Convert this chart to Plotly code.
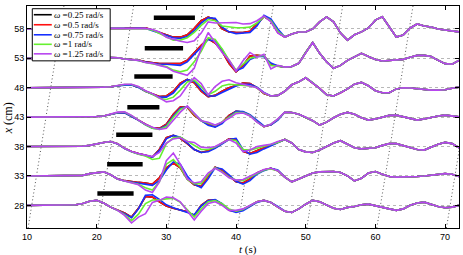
import plotly.graph_objects as go

# time grid (s)
t = list(range(10, 73))

# row positions (cm) – y tick labels
rows = [58, 53, 48, 43, 38, 33, 28]

# ---- displacement data (cm) ----
# lead: t=10..22 (shared), head: t=23..46 (per series), tail: t=47..72 (shared)
lead_58 = [0, 0, 0, 0, 0, 0, 0, 0, 0, 0, 0, 0, 0]
red_58 = [0.03, 0.1, 0.15, 0.2, 0.2, -0.2, -0.6, -1.0, -1.4, -1.4, -1.0, 0.1, 1.4, 2.0, 1.6, 0, -0.5, -0.6, -0.6, -0.4, 0.9, 2.1, 1.4, -0.6]
blue_58 = [0.03, 0.08, 0.12, 0.15, 0.1, -0.3, -0.7, -1.1, -1.5, -1.6, -1.3, -0.3, 1.0, 1.9, 1.8, 0.3, -0.5, -0.8, -0.7, -0.6, 0.5, 2.3, 1.7, 0]
green_58 = [0.03, 0.08, 0.1, 0.1, 0.05, -0.2, -0.8, -1.4, -1.9, -1.9, -1.5, -0.6, 0.6, 1.6, 1.4, 0.5, 0.3, 0.2, 0.2, 0.3, 1.0, 2.1, 1.4, -0.4]
purple_58 = [0.03, 0.09, 0.12, 0.12, 0.09, -0.09, -0.5, -1.4, -1.8, -2.1, -2.3, -2.0, -0.7, 1.2, 1.0, 1.0, 1.0, 1.1, 0.85, 0.9, 1.4, 2.2, 1.2, -0.7]
tail_58 = [-1.37, -0.85, -0.51, -0.51, 0, 1.19, 2.05, 1.2, -0.7, -1.9, -1.0, -0.5, 0.17, 1.5, 2.05, 0.34, -1.37, -1.02, 0.17, 0.85, 0.51, 0.34, 0, -0.17, -0.34, -0.51]

lead_53 = [0, 0, 0, 0, 0, 0, 0, 0, 0, 0, 0.1, 0.17, 0.17]
red_53 = [0.1, -0.1, -0.2, -0.3, -0.6, -0.8, -0.9, -0.9, -0.9, -0.9, -0.34, 1.0, 2.2, 3.3, 2.6, 1.2, -0.9, -2.3, -1.2, 0.4, 0.5, 0.4, -1.0, -1.3]
blue_53 = [0.1, -0.1, -0.25, -0.35, -0.65, -0.85, -1.0, -1.0, -1.1, -1.2, -0.6, 0.6, 1.9, 3.2, 2.9, 1.5, -0.5, -2.1, -1.6, -0.2, 0.3, 0.3, -0.8, -1.3]
green_53 = [0.1, -0.1, -0.25, -0.35, -0.7, -0.9, -1.2, -1.4, -2.0, -2.3, -2.0, -0.6, 1.2, 3.5, 3.2, 1.6, -0.3, -2.0, -1.0, 0, 0.3, 0.5, -1.2, -1.3]
purple_53 = [0.1, -0.1, -0.2, -0.34, -0.7, -0.85, -1.2, -1.5, -2.2, -2.6, -2.9, -1.7, 1.7, 4.4, 2.8, 1.0, -0.3, -2.2, -0.4, 1.0, 0.2, 0.7, -1.8, -1.2]
tail_53 = [-1.5, -1.4, -0.85, 1.0, 2.7, 0.85, -0.6, -1.7, -1.2, -0.34, 0.3, 0.85, 0.3, -0.2, -0.45, -0.34, -0.34, -0.17, 0.17, 0.5, 0.5, 0.3, -0.34, -0.9, -1.0, -0.34]

lead_48 = [0, 0, 0, 0, 0, 0, 0, 0, 0, 0, 0, 0.1, 0.17]
red_48 = [0.35, 0.5, 0.5, 0.1, -0.6, -1.0, -1.5, -1.4, -0.6, 0.8, 1.4, 0.85, -0.6, -1.5, -1.3, -0.6, 0, 0.4, 0.8, 0.7, 0, -1.0, -1.4, -1.3]
blue_48 = [0.3, 0.45, 0.45, 0.05, -0.6, -1.1, -1.6, -1.6, -0.9, 0.5, 1.4, 1.1, -0.3, -1.4, -1.4, -0.8, -0.2, 0.3, 0.6, 0.6, 0.1, -0.8, -1.4, -1.3]
green_48 = [0.35, 0.55, 0.55, 0.15, -0.6, -1.1, -1.8, -2.0, -1.6, -0.4, 1.0, 1.3, 0.2, -1.2, -0.6, 0.3, 0.6, 0.5, 0.5, 0.3, 0, -0.9, -1.4, -1.3]
purple_48 = [0.4, 0.6, 0.6, 0.2, -0.5, -1.0, -1.7, -2.4, -2.2, -1.4, 0.3, 1.7, 0.7, -1.2, 0.2, 1.1, 1.35, 0.85, 0.6, 0.3, 0, -0.85, -1.4, -1.3]
tail_48 = [-0.6, 0.5, 1.0, 1.7, 0.85, -0.1, -1.2, -1.4, -0.85, -0.2, 0.6, 0.9, 0.34, -0.5, -0.85, -0.85, -0.2, 0, -0.05, -0.2, -0.34, -0.4, -0.4, -0.34, -0.1, 0.1]

lead_43 = [0, 0, 0, 0, 0, 0, 0, 0, 0, 0, 0.1, 0.2, 0.5]
red_43 = [0.75, 0.8, 0.2, -0.5, -1.2, -1.8, -1.9, -1.2, 0.5, 1.7, 1.7, 0.3, -0.6, -1.2, -1.6, -0.9, 0.3, 1.0, 0.85, 0.3, -0.7, -1.6, -1.3, -0.4]
blue_43 = [0.7, 0.75, 0.15, -0.55, -1.3, -1.9, -2.0, -1.4, 0.2, 1.5, 1.8, 0.6, -0.6, -1.4, -1.7, -1.1, 0.1, 1.0, 0.95, 0.4, -0.6, -1.5, -1.35, -0.5]
green_43 = [0.8, 0.85, 0.25, -0.5, -1.3, -1.9, -2.1, -1.6, 0, 1.3, 1.8, 0.5, -0.6, -1.0, -1.4, -0.8, 0, 0.8, 0.8, 0.3, -0.8, -1.6, -1.2, -0.35]
purple_43 = [0.85, 0.9, 0.3, -0.5, -1.2, -1.7, -2.1, -1.9, -0.5, 0.85, 1.9, 0.7, -0.6, -0.85, -1.35, -0.85, -0.2, 0.6, 0.7, 0.2, -0.85, -1.6, -1.2, -0.3]
tail_43 = [0.85, 0.8, 0.5, 0, -0.6, -1.35, -0.85, -0.1, 0.5, 0.8, 0.5, -0.1, -0.5, -0.3, 0, 0.3, 0.34, 0.1, -0.2, -0.5, -0.3, 0, 0.2, 0.34, 0.2, 0.05]

lead_38 = [0, 0, 0, 0, 0, 0, 0, 0, 0.05, 0.2, 0.5, 0.7, 0.85]
red_38 = [0.5, -0.3, -0.85, -1.2, -1.5, -1.8, -0.5, 1.5, 1.9, 1.4, 0.5, -0.5, -1.0, -0.7, -0.2, 0.6, 1.3, 1.2, -0.8, -1.2, -0.7, -0.2, 0.3, 0.8]
blue_38 = [0.45, -0.35, -0.9, -1.25, -1.5, -1.8, -0.7, 1.3, 1.9, 1.6, 0.6, -0.5, -1.0, -0.9, -0.3, 0.5, 1.2, 1.4, -0.5, -1.3, -1.0, -0.4, 0.1, 0.7]
green_38 = [0.5, -0.3, -0.9, -1.3, -1.6, -2.2, -2.0, 0.5, 1.5, 1.6, 0.9, 0.2, -0.5, -0.5, -0.1, 0.6, 1.2, 1.0, -0.5, -0.6, -0.3, 0, 0.3, 0.7]
purple_38 = [0.5, -0.3, -0.85, -1.2, -1.4, -1.7, -1.0, 0.6, 1.3, 1.5, 0.85, 0.7, -0.1, -0.2, 0, 0.6, 1.2, 0.6, -0.85, -0.6, 0, 0.2, 0.4, 0.85]
tail_38 = [1.2, 0.6, -0.5, -0.9, -1.0, -0.6, 0, 0.6, 1.0, 0.4, -0.2, -0.4, -0.3, -0.2, 0.2, 0.5, 0.5, 0.2, -0.1, -0.5, -0.6, -0.1, 0.4, 0.7, 0.5, -0.2]

lead_33 = [0, 0, 0, 0, 0, 0, 0, 0, 0.1, 0.4, 0.6, 0.7, 0.2]
red_33 = [-0.5, -0.8, -1.0, -1.1, -1.2, -1.4, -0.3, 1.4, 2.2, 1.4, -0.5, -1.5, -1.8, 0, 1.5, 1.0, 0, -1.0, -1.2, -0.5, 0.5, 1.0, 1.3, 0.9]
blue_33 = [-0.5, -0.85, -1.05, -1.2, -1.4, -1.6, -0.8, 1.0, 2.4, 2.0, 0, -1.4, -2.0, -0.5, 1.4, 1.2, 0.2, -0.9, -1.4, -0.8, 0.3, 0.9, 1.3, 1.0]
green_33 = [-0.5, -0.85, -1.1, -1.4, -2.0, -2.4, -1.0, 2.0, 2.8, 1.5, -0.6, -1.3, -1.3, 0.2, 1.4, 0.7, -0.2, -0.7, -0.8, -0.2, 0.5, 1.0, 1.2, 0.9]
purple_33 = [-0.5, -0.85, -1.2, -1.5, -2.4, -2.8, -1.0, 2.6, 3.9, 2.0, -0.5, -1.2, -1.0, 0.5, 1.3, 0.6, -0.3, -0.7, -0.6, 0, 0.6, 1.1, 1.3, 0.9]
tail_33 = [-0.2, -1.0, -0.5, 0, 0.5, 0.7, 0.75, 0.75, 0.6, 0, -0.85, -0.4, 0.5, 0.75, 0.3, -0.1, -0.2, -0.2, -0.1, -0.1, 0, 0.1, 0.2, 0.4, 0.3, -0.1]

lead_28 = [0, 0, 0, 0, 0, 0, 0.05, 0.1, 0.3, 0.7, 0.85, 0.4, -0.3]
red_28 = [-0.85, -1.3, -2.0, -0.5, 1.5, 1.4, 0.6, -0.1, -0.5, -0.85, -1.1, -1.7, 0, 0.85, 0.9, 0.2, -0.85, -1.0, -0.7, -0.1, 0.6, 0.85, 0.5, -0.3]
blue_28 = [-0.85, -1.4, -2.1, -0.6, 1.7, 1.8, 1.0, 0.1, -0.4, -0.8, -1.1, -1.6, -0.1, 0.8, 1.0, 0.3, -0.8, -1.2, -0.9, -0.2, 0.5, 0.85, 0.5, -0.2]
green_28 = [-0.85, -1.6, -2.6, -1.5, 0.3, 0.9, 0.9, 1.1, 1.2, 0.5, -0.8, -2.0, -0.6, 0.6, 0.8, 0.3, -0.6, -1.0, -0.7, -0.1, 0.6, 0.85, 0.5, -0.3]
purple_28 = [-0.85, -1.7, -3.0, -2.0, -1.4, 0.5, 0.85, 1.4, 1.3, 0.6, -1.0, -2.5, -1.0, 0.3, 0.6, 0, -0.85, -0.85, -0.6, 0, 0.6, 0.85, 0.5, -0.3]
tail_28 = [-1.0, -1.2, -0.6, 0.2, 0.85, 0.6, 0, -0.5, -0.7, -0.34, -0.2, 0.1, 0.2, -0.1, -0.3, -0.6, -0.85, -0.6, 0, 0.4, 0.55, 0.2, -0.2, -0.4, -0.3, 0]

leads = {58: lead_58, 53: lead_53, 48: lead_48, 43: lead_43, 38: lead_38, 33: lead_33, 28: lead_28}
tails = {58: tail_58, 53: tail_53, 48: tail_48, 43: tail_43, 38: tail_38, 33: tail_33, 28: tail_28}
heads = {
    "red": {58: red_58, 53: red_53, 48: red_48, 43: red_43, 38: red_38, 33: red_33, 28: red_28},
    "blue": {58: blue_58, 53: blue_53, 48: blue_48, 43: blue_43, 38: blue_38, 33: blue_33, 28: blue_28},
    "green": {58: green_58, 53: green_53, 48: green_48, 43: green_43, 38: green_38, 33: green_33, 28: green_28},
    "purple": {58: purple_58, 53: purple_53, 48: purple_48, 43: purple_43, 38: purple_38, 33: purple_33, 28: purple_28},
}
# the black (0.25 rad/s) record lies under the red one in the picture
heads["black"] = heads["red"]

series_names = ["<i>ω</i> =0.25 rad/s", "<i>ω</i> =0.5 rad/s", "<i>ω</i> =0.75 rad/s",
                "<i>ω</i> =1 rad/s", "<i>ω</i> =1.25 rad/s"]
series_keys = ["black", "red", "blue", "green", "purple"]
series_colors = ["#000000", "#ff1010", "#1530ff", "#66f030", "#b845f0"]

# black bars (t start, t end, x position)
bar_t0 = [28.2, 26.9, 25.4, 24.4, 22.8, 21.5, 20.1]
bar_t1 = [34.1, 32.4, 30.9, 29.0, 28.0, 26.6, 25.3]
bar_x = [59.9, 54.7, 49.9, 44.7, 40.0, 35.0, 30.0]

# dotted slanted guide lines (bottom and top crossing times)
guide_t0 = [10.15, 20.15, 30.2, 40.2, 50.15, 60.2, 70.2]
guide_t1 = [15.3, 25.3, 35.3, 45.35, 55.3, 65.4, 75.4]
x_range = [24.15, 61.9]

fig = go.Figure()

# guide lines
gx, gy = [], []
for a, b in zip(guide_t0, guide_t1):
    gx += [a, b, None]
    gy += [x_range[0], x_range[1], None]
fig.add_trace(go.Scatter(x=gx, y=gy, mode="lines", showlegend=False, hoverinfo="skip",
                         line=dict(color="#555555", width=1, dash="1px,2.5px")))

for key, name, col in zip(series_keys, series_names, series_colors):
    xs, ys = [], []
    for r in rows:
        disp = leads[r] + heads[key][r] + tails[r]
        xs += t + [None]
        ys += [r + d for d in disp] + [None]
    fig.add_trace(go.Scatter(x=xs, y=ys, mode="lines", name=name, showlegend=False,
                             line=dict(color=col, width=1.6)))

bx, by = [], []
for a, b, v in zip(bar_t0, bar_t1, bar_x):
    bx += [a, b, None]
    by += [v, v, None]
fig.add_trace(go.Scatter(x=bx, y=by, mode="lines", showlegend=False, hoverinfo="skip",
                         line=dict(color="black", width=4.5)))

# manual legend and axis titles (paper coordinates from pixel positions)
W, H = 432.6, 221.4
L0, T0 = 26.7, 6.3
def px(v):
    return (v - L0) / W
def py(v):
    return 1 - (v - T0) / H

shapes = [dict(type="rect", xref="paper", yref="paper", x0=px(32), x1=px(110), y0=py(61), y1=py(9),
               fillcolor="white", line=dict(color="black", width=1), layer="above")]
annotations = []
entry_y = [15, 25, 35, 44.5, 54]
for yy, name, col in zip(entry_y, series_names, series_colors):
    shapes.append(dict(type="line", xref="paper", yref="paper", x0=px(33.5), x1=px(51.5),
                       y0=py(yy), y1=py(yy), line=dict(color=col, width=1.6), layer="above"))
    annotations.append(dict(xref="paper", yref="paper", x=px(51.5), y=py(yy), text=name,
                            showarrow=False, xanchor="left", yanchor="middle",
                            font=dict(family="Liberation Serif", size=9, color="black")))

annotations.append(dict(xref="paper", yref="paper", x=px(248), y=py(256.5), text="<i>t</i> (s)",
                        showarrow=False, xanchor="center", yanchor="bottom", borderpad=0,
                        font=dict(family="Liberation Serif", size=11, color="black")))
annotations.append(dict(xref="paper", yref="paper", x=px(8), y=py(118), text="<i>x</i> (cm)",
                        showarrow=False, xanchor="center", yanchor="middle", textangle=-90,
                        font=dict(family="Liberation Serif", size=12, color="black")))

fig.update_layout(
    width=463, height=255,
    margin=dict(l=27, r=4, t=6, b=27, autoexpand=False),
    paper_bgcolor="white", plot_bgcolor="white",
    shapes=shapes, annotations=annotations,
    showlegend=False,
    xaxis=dict(range=[10, 72], tickvals=[10, 20, 30, 40, 50, 60, 70], automargin=False,
               ticks="inside", ticklen=4, tickcolor="black", mirror="ticks",
               showline=True, linecolor="black", linewidth=1, showgrid=False, zeroline=False,
               tickfont=dict(family="Liberation Sans", size=9, color="black")),
    yaxis=dict(range=x_range, tickvals=rows[::-1], automargin=False,
               ticks="inside", ticklen=4, tickcolor="black", mirror="ticks",
               showline=True, linecolor="black", linewidth=1,
               showgrid=True, gridcolor="#b8b8b8", griddash="dot", gridwidth=1, zeroline=False,
               tickfont=dict(family="Liberation Sans", size=9, color="black")),
)

fig.write_html("out.html", config={"displayModeBar": False},
               post_script="document.body.style.margin='0';")
